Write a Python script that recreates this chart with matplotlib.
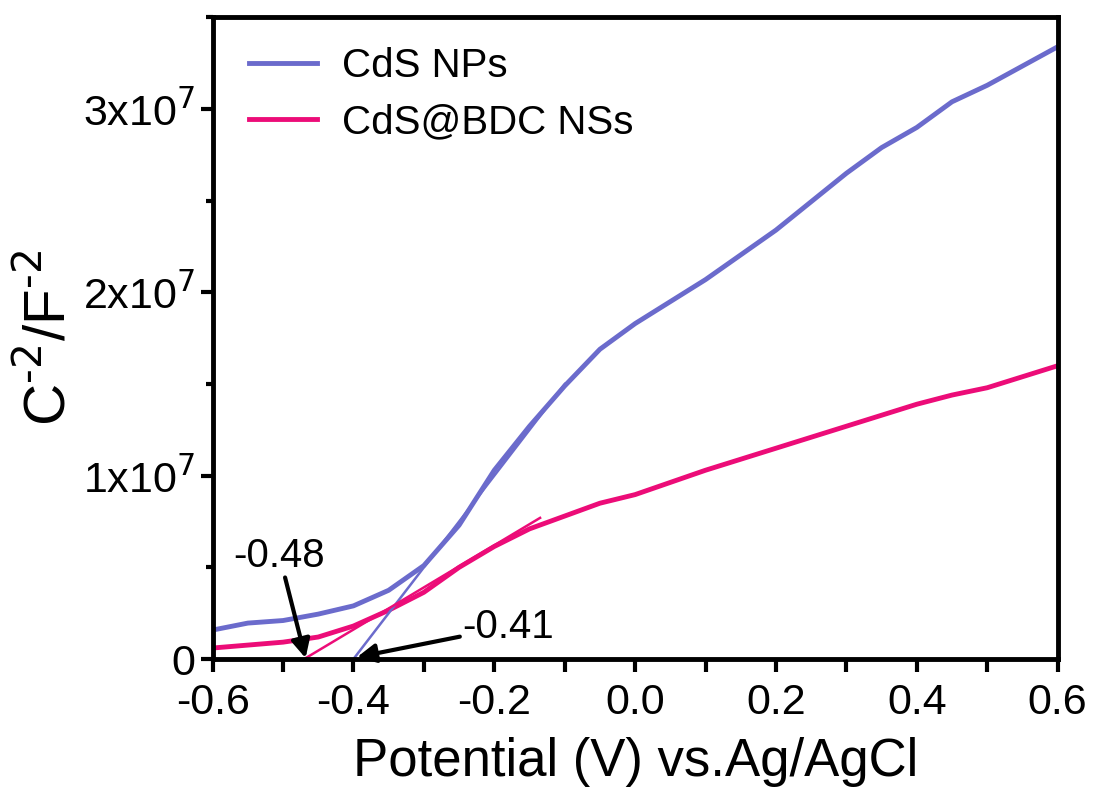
import numpy as np
import matplotlib.pyplot as plt
from matplotlib.ticker import MultipleLocator, FuncFormatter

# Mott-Schottky data
potential = [-0.6, -0.55, -0.5, -0.45, -0.4, -0.35, -0.3, -0.25, -0.2, -0.15, -0.1,
             -0.05, 0.0, 0.1, 0.2, 0.3, 0.35, 0.4, 0.45, 0.5, 0.6]
cds_np = [1.58e6, 1.96e6, 2.1e6, 2.45e6, 2.9e6, 3.75e6, 5.1e6, 7.3e6, 1.03e7, 1.27e7, 1.49e7,
          1.69e7, 1.83e7, 2.07e7, 2.34e7, 2.65e7, 2.79e7, 2.9e7, 3.04e7, 3.13e7, 3.34e7]
cds_bdc = [0.6e6, 0.76e6, 0.92e6, 1.2e6, 1.8e6, 2.66e6, 3.64e6, 5.0e6, 6.14e6, 7.1e6, 7.8e6,
           8.5e6, 8.97e6, 1.03e7, 1.15e7, 1.27e7, 1.33e7, 1.39e7, 1.44e7, 1.48e7, 1.6e7]

# tangent (flat-band) lines
tan_np_x = [-0.40, -0.10]
tan_np_y = [0.0, 1.5e7]
tan_bdc_x = [-0.47, -0.135]
tan_bdc_y = [0.0, 7.7e6]

blue = '#6b6bcc'
pink = '#ec0c78'

plt.rcParams['font.family'] = ['Liberation Sans', 'DejaVu Sans']

fig = plt.figure(figsize=(10.96, 7.94), dpi=100)
ax = fig.add_axes([0.194, 0.17, 0.771, 0.808])

ax.plot(potential, cds_np, color=blue, lw=3.5, label='CdS NPs')
ax.plot(potential, cds_bdc, color=pink, lw=3.5, label='CdS@BDC NSs')
ax.plot(tan_np_x, tan_np_y, color=blue, lw=1.8)
ax.plot(tan_bdc_x, tan_bdc_y, color=pink, lw=1.8)

arrow = dict(arrowstyle='-|>', color='black', lw=3, mutation_scale=28, shrinkA=0, shrinkB=0)
ax.annotate('-0.48', xy=(-0.468, 0.05e6), xytext=(-0.505, 4.6e6),
            fontsize=29, ha='center', va='bottom', arrowprops=arrow)
ax.annotate('-0.41', xy=(-0.395, 0.1e6), xytext=(-0.245, 1.75e6),
            fontsize=29, ha='left', va='center', arrowprops=arrow)

ax.set_xlim(-0.6, 0.6)
ax.set_ylim(0, 3.5e7)
ax.xaxis.set_major_locator(MultipleLocator(0.2))
ax.xaxis.set_minor_locator(MultipleLocator(0.1))
ax.xaxis.set_major_formatter(FuncFormatter(lambda v, p: f'{v:.1f}'.replace('-0.0', '0.0')))
ax.yaxis.set_major_locator(MultipleLocator(1e7))
ax.yaxis.set_minor_locator(MultipleLocator(0.5e7))
ax.yaxis.set_major_formatter(FuncFormatter(
    lambda v, p: '0' if v == 0 else r'%dx10$^{%d}$' % (round(v / 1e7), 7)))

ax.tick_params(which='both', direction='out', width=3, labelsize=31)
ax.tick_params(which='major', length=9)
ax.tick_params(axis='y', which='minor', length=5)
ax.tick_params(axis='x', which='minor', length=9)
ax.tick_params(axis='x', pad=8)
for s in ax.spines.values():
    s.set_linewidth(3.5)

ax.set_xlabel('Potential (V) vs.Ag/AgCl', fontsize=38, labelpad=10)
ax.set_ylabel(r'C$^{\text{-2}}$/F$^{\text{-2}}$', fontsize=42, labelpad=4)

ax.legend(loc='upper left', frameon=False, fontsize=29, handlelength=1.7,
          bbox_to_anchor=(0.0, 1.01), labelspacing=0.45, handletextpad=0.6)

fig.savefig('out.png', dpi=100)
